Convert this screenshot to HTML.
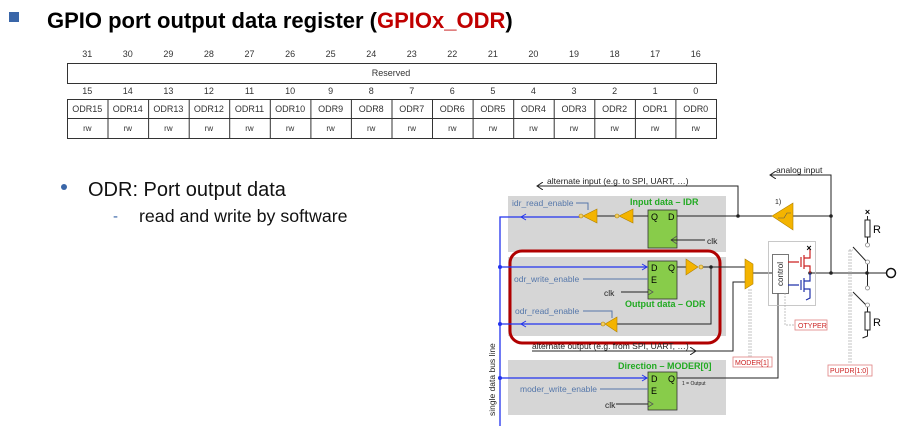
<!DOCTYPE html>
<html><head><meta charset="utf-8"><style>
html,body{margin:0;padding:0;background:#fff;width:917px;height:426px;overflow:hidden}
svg{display:block;font-family:"Liberation Sans",Arial,sans-serif}
</style></head><body>
<svg width="917" height="426" viewBox="0 0 917 426" xmlns="http://www.w3.org/2000/svg">
<defs>
<marker id="ak" markerWidth="8" markerHeight="8" refX="6" refY="4" orient="auto" markerUnits="userSpaceOnUse"><path d="M0,0 L6,4 L0,8" fill="none" stroke="#222" stroke-width="1"/></marker>
</defs>
<!-- title -->
<rect x="9" y="12" width="10" height="10" fill="#3a66a8"/>
<text x="47" y="28" font-size="22" font-weight="bold" fill="#000">GPIO port output data register (<tspan fill="#c00000">GPIOx_ODR</tspan>)</text>
<!-- table -->
<g font-size="9" fill="#333" text-anchor="middle">
<text x="87.3" y="57">31</text><text x="127.8" y="57">30</text><text x="168.4" y="57">29</text><text x="208.9" y="57">28</text><text x="249.5" y="57">27</text><text x="290.1" y="57">26</text><text x="330.6" y="57">25</text><text x="371.2" y="57">24</text><text x="411.8" y="57">23</text><text x="452.3" y="57">22</text><text x="492.9" y="57">21</text><text x="533.4" y="57">20</text><text x="574" y="57">19</text><text x="614.6" y="57">18</text><text x="655.1" y="57">17</text><text x="695.7" y="57">16</text>
<text x="87.3" y="94">15</text><text x="127.8" y="94">14</text><text x="168.4" y="94">13</text><text x="208.9" y="94">12</text><text x="249.5" y="94">11</text><text x="290.1" y="94">10</text><text x="330.6" y="94">9</text><text x="371.2" y="94">8</text><text x="411.8" y="94">7</text><text x="452.3" y="94">6</text><text x="492.9" y="94">5</text><text x="533.4" y="94">4</text><text x="574" y="94">3</text><text x="614.6" y="94">2</text><text x="655.1" y="94">1</text><text x="695.7" y="94">0</text>
<text x="391" y="76">Reserved</text>
<text x="87.3" y="112">ODR15</text><text x="127.8" y="112">ODR14</text><text x="168.4" y="112">ODR13</text><text x="208.9" y="112">ODR12</text><text x="249.5" y="112">ODR11</text><text x="290.1" y="112">ODR10</text><text x="330.6" y="112">ODR9</text><text x="371.2" y="112">ODR8</text><text x="411.8" y="112">ODR7</text><text x="452.3" y="112">ODR6</text><text x="492.9" y="112">ODR5</text><text x="533.4" y="112">ODR4</text><text x="574" y="112">ODR3</text><text x="614.6" y="112">ODR2</text><text x="655.1" y="112">ODR1</text><text x="695.7" y="112">ODR0</text>
<g font-size="8"><text x="87.3" y="131">rw</text><text x="127.8" y="131">rw</text><text x="168.4" y="131">rw</text><text x="208.9" y="131">rw</text><text x="249.5" y="131">rw</text><text x="290.1" y="131">rw</text><text x="330.6" y="131">rw</text><text x="371.2" y="131">rw</text><text x="411.8" y="131">rw</text><text x="452.3" y="131">rw</text><text x="492.9" y="131">rw</text><text x="533.4" y="131">rw</text><text x="574" y="131">rw</text><text x="614.6" y="131">rw</text><text x="655.1" y="131">rw</text><text x="695.7" y="131">rw</text></g>
</g>
<g stroke="#333" stroke-width="1" fill="none">
<rect x="67.5" y="63.5" width="649" height="20"/>
<rect x="67.5" y="99.5" width="649" height="39"/>
<line x1="67" y1="118.5" x2="716" y2="118.5"/>
<path d="M108,99v39M148.6,99v39M189.2,99v39M229.7,99v39M270.3,99v39M310.9,99v39M351.4,99v39M392,99v39M432.5,99v39M473.1,99v39M513.7,99v39M554.2,99v39M594.8,99v39M635.4,99v39M675.9,99v39"/>
</g>
<!-- bullets -->
<circle cx="64" cy="187" r="3" fill="#3a66a8"/>
<text x="88" y="196" font-size="20" fill="#111">ODR: Port output data</text>
<text x="113" y="221" font-size="15" fill="#3a66a8">-</text>
<text x="139" y="222" font-size="17.8" fill="#111">read and write by software</text>

<!-- diagram -->
<g>
<rect x="508" y="196" width="218" height="56" fill="#d6d6d6"/>
<rect x="508" y="257" width="218" height="79" fill="#d6d6d6"/>
<rect x="508" y="360" width="218" height="55" fill="#d6d6d6"/>
<rect x="510" y="251" width="210" height="92" rx="12" fill="none" stroke="#b00000" stroke-width="3"/>
<rect x="648" y="210" width="29" height="38" fill="#88cc4a" stroke="#333" stroke-width="0.8"/>
<rect x="648" y="261" width="29" height="38" fill="#88cc4a" stroke="#333" stroke-width="0.8"/>
<rect x="648" y="372" width="29" height="38" fill="#88cc4a" stroke="#333" stroke-width="0.8"/>
<g font-size="9" fill="#000">
<text x="651" y="220">Q</text><text x="668" y="220">D</text>
<text x="651" y="271">D</text><text x="668" y="271">Q</text><text x="651" y="283">E</text>
<text x="651" y="382">D</text><text x="668" y="382">Q</text><text x="651" y="394">E</text>
</g>
<g fill="none" stroke="#555" stroke-width="0.8">
<path d="M677,236 l-6,4 l6,4"/>
<path d="M648,289 l5,3 l-5,3"/>
<path d="M648,401 l5,3 l-5,3"/>
</g>
<g stroke="#222" stroke-width="1" fill="none">
<path d="M671,240 H705"/><path d="M621,292 H648"/><path d="M616,404 H648"/>
<path d="M677,216 H772"/><path d="M793,216 H831"/><path d="M633,216 H648"/><path d="M597,216 H615"/>
<path d="M738,216 V186 H537" marker-end="url(#ak)"/>
<path d="M831,216 V175 H770" marker-end="url(#ak)"/>
<path d="M831,216 V273"/>
<path d="M677,267 H686"/><path d="M702,267 H745"/>
<path d="M711,267 V324 H617"/>
<path d="M753,273 H772"/>
<path d="M532,351 H733 V282 H745"/>
<path d="M677,378 H778 V293"/>
<path d="M810,273 H886"/>
</g>
<path d="M690,351 l6,0" stroke="#222" marker-end="url(#ak)"/>
<g stroke="#5577aa" stroke-width="1" fill="none">
<path d="M576,203 H588 V210"/>
<path d="M583,279 H648"/>
<path d="M583,311 H612 V318"/>
<path d="M600,389 H648"/>
</g>
<g stroke="#2233ee" stroke-width="1.3" fill="none">
<path d="M500,426 V217 H580"/>
<path d="M500,267 H647"/>
<path d="M500,324 H602"/>
<path d="M500,378 H647"/>
</g>
<g fill="#2233ee"><circle cx="500" cy="267" r="2"/><circle cx="500" cy="324" r="2"/><circle cx="500" cy="378" r="2"/></g>
<g fill="none" stroke="#2233ee" stroke-width="1"><path d="M526,214 l-5,3 l5,3"/><path d="M526,321 l-5,3 l5,3"/><path d="M642,264 l5,3 l-5,3"/><path d="M642,375 l5,3 l-5,3"/></g>
<g fill="#f4b400" stroke="#b08000" stroke-width="0.6">
<path d="M597,209 L583,216 L597,223 Z"/><circle cx="581" cy="216" r="2" fill="#f4d060"/>
<path d="M633,209 L619,216 L633,223 Z"/><circle cx="617" cy="216" r="2" fill="#f4d060"/>
<path d="M686,259 L698,267 L686,275 Z"/><circle cx="701" cy="267" r="2" fill="#f4d060"/>
<path d="M617,317 L605,324 L617,332 Z"/><circle cx="603" cy="324" r="2" fill="#f4d060"/>
<path d="M793,203 L772,216 L793,230 Z"/>
<path d="M745,259 L753,264 L753,284 L745,289 Z"/>
</g>
<path d="M778,218 h6 l3,-5 h4" fill="none" stroke="#555" stroke-width="0.6"/>
<g fill="#222"><circle cx="711" cy="267" r="1.8"/><circle cx="738" cy="216" r="1.8"/><circle cx="831" cy="216" r="1.8"/><circle cx="831" cy="273" r="1.8"/><circle cx="867" cy="273" r="1.8"/><circle cx="810" cy="273" r="1.8"/></g>
<rect x="768.5" y="241.5" width="47" height="64" fill="none" stroke="#bbb" stroke-width="0.8"/>
<rect x="772.5" y="254.5" width="16" height="39" fill="#fff" stroke="#555" stroke-width="0.8"/>
<text transform="translate(783,274) rotate(-90)" font-size="8" text-anchor="middle" fill="#222">control</text>
<g fill="none" stroke-width="1.2">
<path d="M788,262 H799 M801,257 V267 M804,255 V269 M804,258 H810 V249 M804,266 H810 V273" stroke="#cc2222"/>
<path d="M788,285 H799 M801,280 V290 M804,278 V292 M804,281 H810 V273 M804,289 H810 V298 l-4,2" stroke="#2233aa"/>
</g>
<text x="809" y="251" font-size="9" font-weight="bold" text-anchor="middle">×</text>
<g fill="none" stroke="#222" stroke-width="1">
<rect x="865" y="220" width="5" height="17"/>
<rect x="865" y="312" width="5" height="18"/>
<path d="M867.5,216 V220 M867.5,237 V243 M867.5,262 V286 M867.5,307 V312 M867.5,330 V336 l-5,2"/>
<path d="M853,247 L866,261 M853,292 L866,305"/>
</g>
<g fill="#fff" stroke="#888" stroke-width="0.8"><circle cx="867.5" cy="245" r="2"/><circle cx="867.5" cy="288" r="2"/><circle cx="867.5" cy="305" r="2"/><circle cx="867.5" cy="262" r="2"/></g>
<circle cx="891" cy="273" r="4.5" fill="#fff" stroke="#111" stroke-width="1.5"/>
<text x="867.5" y="215" font-size="9" font-weight="bold" text-anchor="middle">×</text>
<text x="873" y="233" font-size="11">R</text><text x="873" y="326" font-size="11">R</text>
<g fill="none" stroke="#aaa" stroke-width="0.7" stroke-dasharray="2,1">
<path d="M785,293 V325 H795"/><path d="M749,289 V357"/><path d="M751,289 V357"/>
<path d="M849,250 V363 M851,250 V363 M849,250 H853 M851,295 H853 M849,295 H853"/>
</g>
<g fill="#fff" stroke="#e08080" stroke-width="0.8"><rect x="795" y="320" width="32" height="10"/><rect x="733" y="357" width="39" height="10"/><rect x="828" y="365" width="44" height="11"/></g>
<g font-size="7" fill="#cc2222"><text x="798" y="328">OTYPER</text><text x="735" y="365">MODER[1]</text><text x="830" y="373">PUPDR[1:0]</text></g>
<g font-size="8.5" fill="#5577aa"><text x="512" y="206">idr_read_enable</text><text x="514" y="282">odr_write_enable</text><text x="515" y="314">odr_read_enable</text><text x="520" y="392">moder_write_enable</text></g>
<g font-size="8.5" fill="#222"><text x="707" y="244">clk</text><text x="604" y="296">clk</text><text x="605" y="408">clk</text>
<text x="547" y="184">alternate input (e.g. to SPI, UART, …)</text>
<text x="776" y="173">analog input</text>
<text x="532" y="349">alternate output (e.g. from SPI, UART, …)</text>
<text x="775" y="204" font-size="7">1)</text>
<text x="682" y="385" font-size="5">1 = Output</text>
<text transform="translate(495,416) rotate(-90)">single data bus line</text></g>
<g font-size="9" font-weight="bold" fill="#22aa22"><text x="630" y="205">Input data – IDR</text><text x="625" y="307">Output data – ODR</text><text x="618" y="369">Direction – MODER[0]</text></g>
</g>
</svg>
</body></html>
